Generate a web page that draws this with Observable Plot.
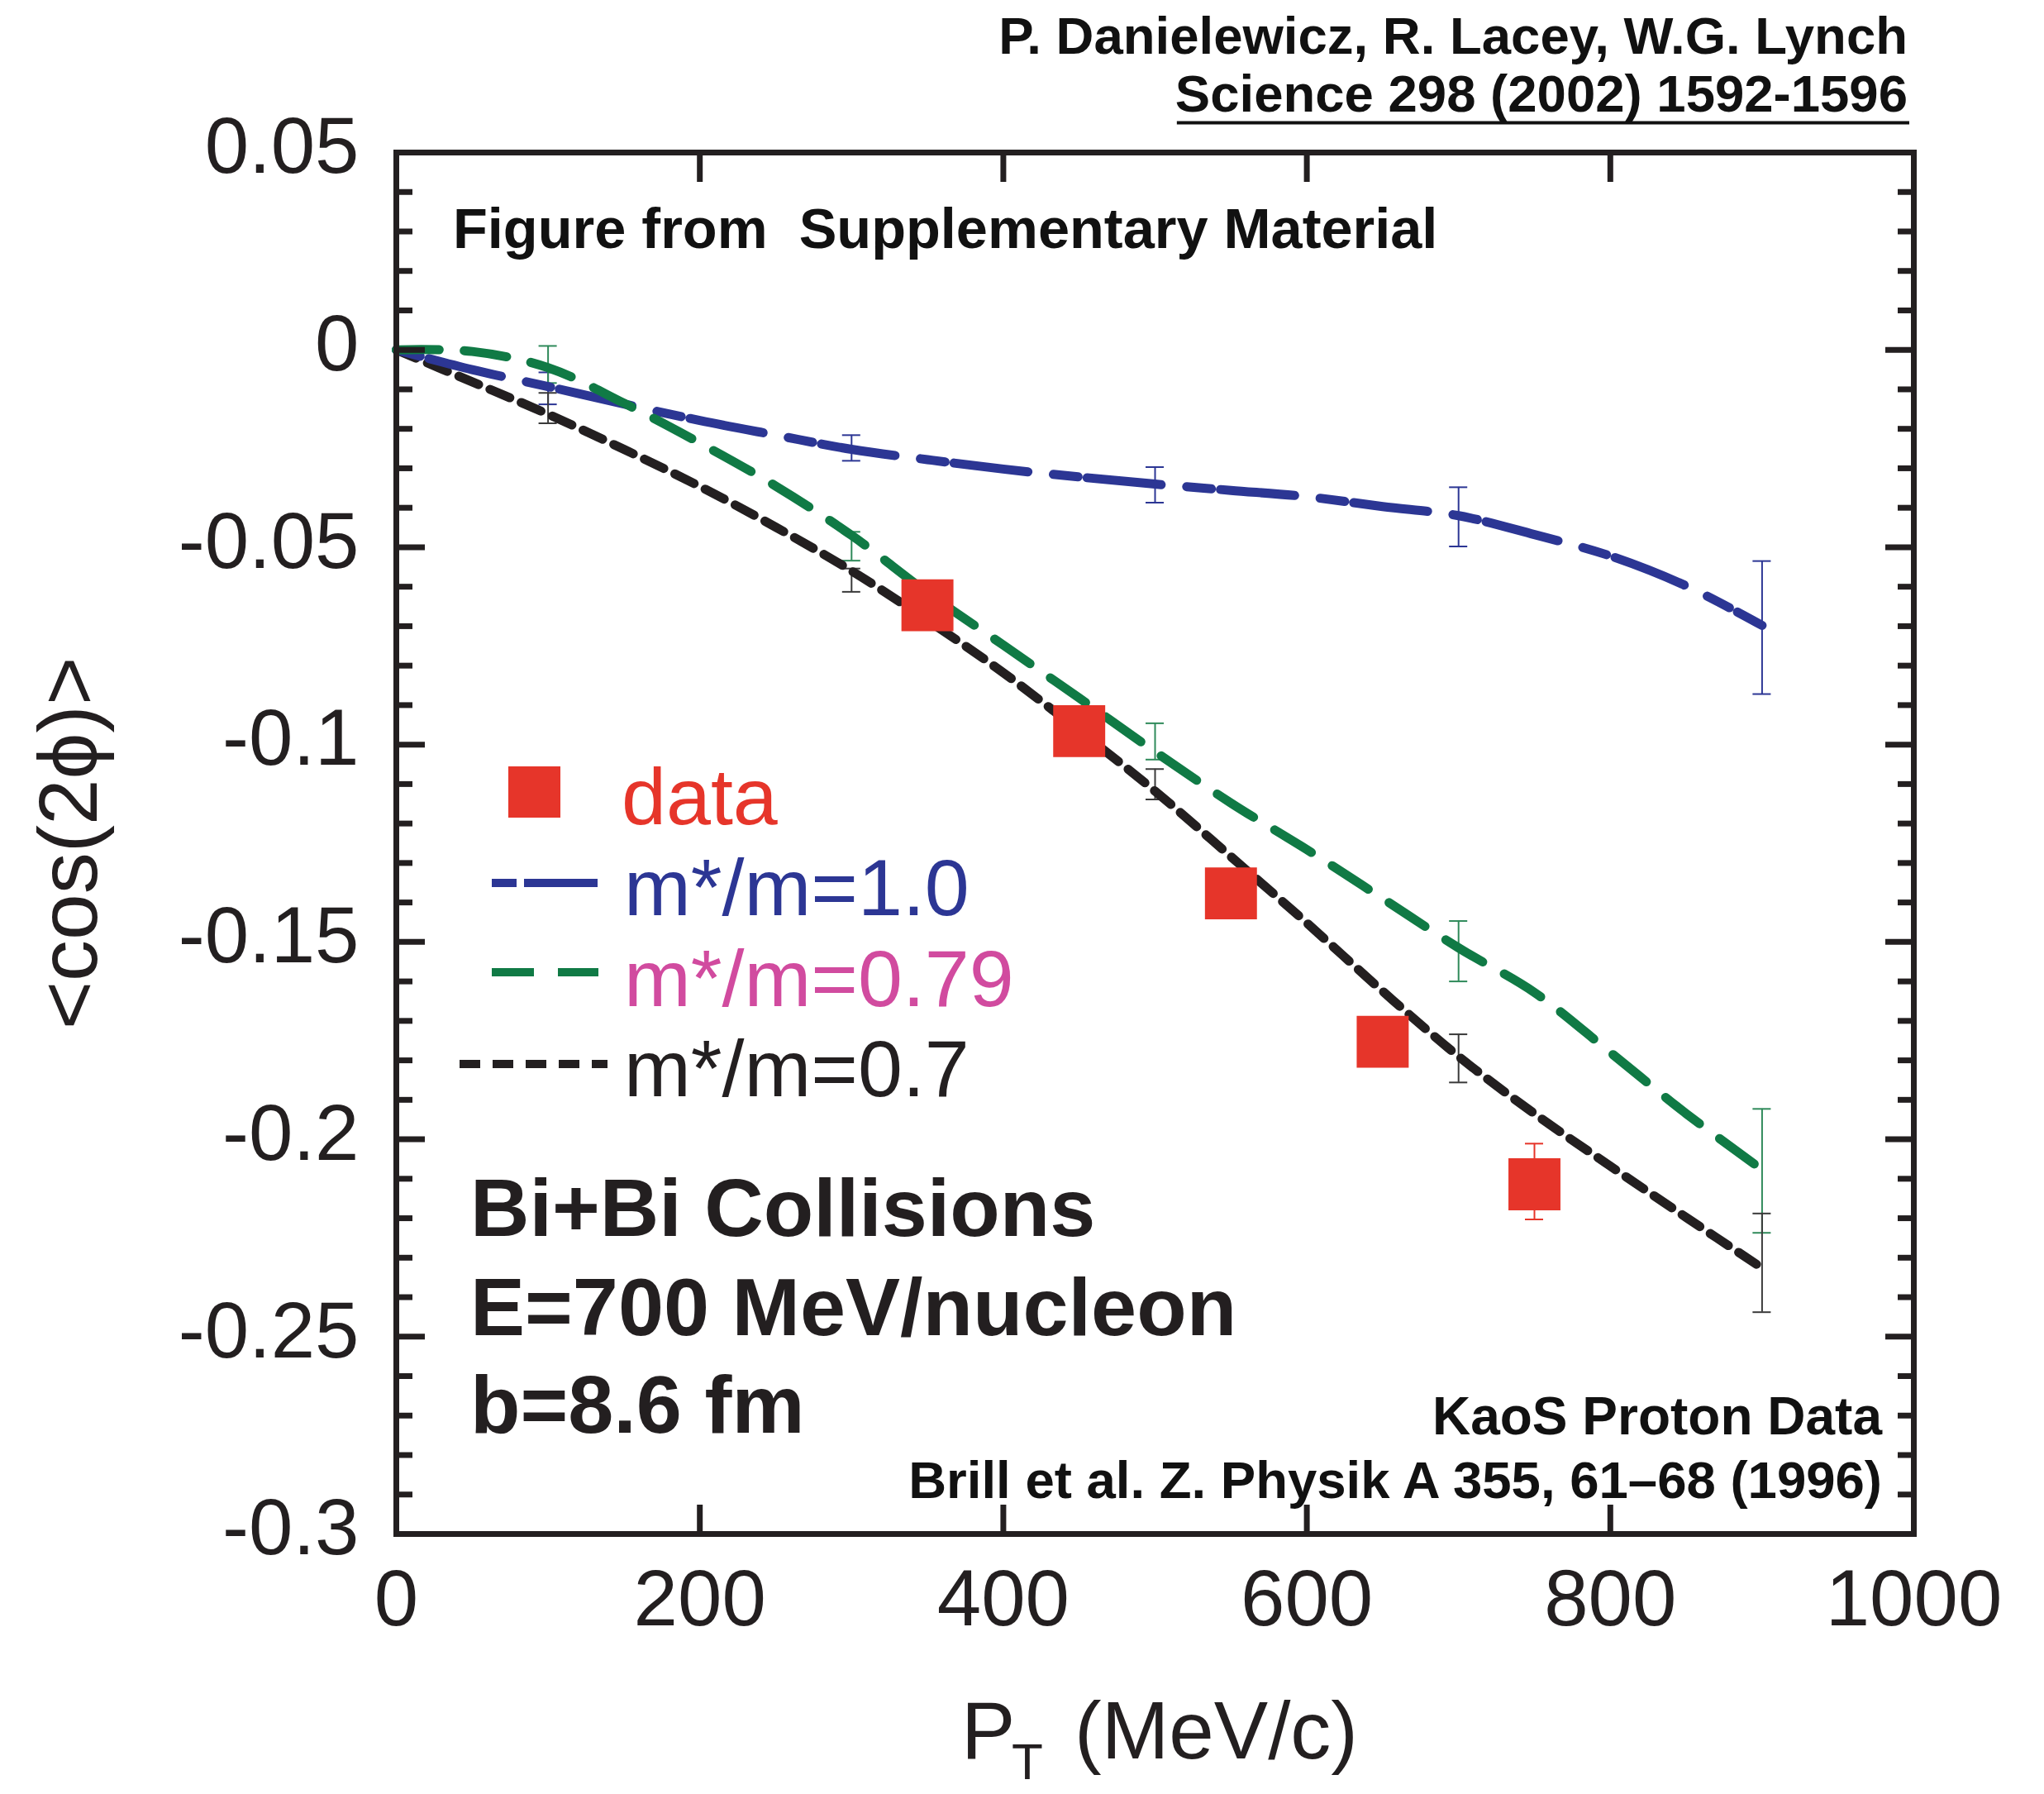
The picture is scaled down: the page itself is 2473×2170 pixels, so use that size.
<!DOCTYPE html>
<html><head><meta charset="utf-8">
<script src="https://cdn.jsdelivr.net/npm/d3@7"></script>
<script src="https://cdn.jsdelivr.net/npm/@observablehq/plot@0.6"></script>
<style>html,body{margin:0;padding:0;background:#fff;} #chart svg{display:block;}</style>
</head><body><div id="chart"></div>
<script>
// ---------- data ----------
const pt = [0, 50, 100, 150, 200, 250, 300, 350, 400, 450, 500, 550, 600, 650, 700, 750, 800, 850, 900];
const mRatio10  = [0, -0.005, -0.0093, -0.0137, -0.0179, -0.0216, -0.0252, -0.0278, -0.0302, -0.0322, -0.034, -0.0356, -0.0372, -0.0397, -0.042, -0.0468, -0.0522, -0.0598, -0.0698];
const mRatio079 = [0, -0.0004, -0.0045, -0.0135, -0.0236, -0.0345, -0.047, -0.0615, -0.0748, -0.0882, -0.1018, -0.1148, -0.1266, -0.139, -0.1515, -0.1628, -0.178, -0.1935, -0.2077];
const mRatio07  = [0, -0.0081, -0.0163, -0.0252, -0.0346, -0.0449, -0.056, -0.0685, -0.0818, -0.0965, -0.1118, -0.1284, -0.1452, -0.1625, -0.179, -0.1935, -0.2068, -0.2198, -0.2326];

const errPt = [100, 300, 500, 700, 900];
const err10Hi  = [-0.0057, -0.0216, -0.0297, -0.0348, -0.0535];
const err10Lo  = [-0.0138, -0.0281, -0.0387, -0.0498, -0.0872];
const err079Hi = [0.001, -0.0461, -0.0946, -0.1447, -0.1923];
const err079Lo = [-0.0084, -0.0534, -0.1038, -0.1600, -0.2237];
const err07Hi  = [-0.0109, -0.0554, -0.1062, -0.1734, -0.2188];
const err07Lo  = [-0.0186, -0.0613, -0.1139, -0.1856, -0.2438];

const dataPt  = [350, 450, 550, 650, 750];
const dataVal = [-0.0647, -0.0966, -0.1377, -0.1753, -0.2114];
const dataHi  = [-0.0597, -0.0916, -0.1327, -0.1703, -0.2011];
const dataLo  = [-0.0697, -0.1016, -0.1427, -0.1803, -0.2203];

const xTicks = [0, 200, 400, 600, 800, 1000];
const yTicks = [0.05, 0, -0.05, -0.1, -0.15, -0.2, -0.25, -0.3];
const yTickLabels = ["0.05", "0", "-0.05", "-0.1", "-0.15", "-0.2", "-0.25", "-0.3"];
const yMinorTicks = d3.range(-30, 6).map(i => i / 100).filter(v => Math.round(v * 100) % 5 !== 0);

const legendLabels = ["data", "m*/m=1.0", "m*/m=0.79", "m*/m=0.7"];

// ---------- styles ----------
const FONT = "'Liberation Sans', Arial, Helvetica, sans-serif";
const INK = "#231f20";
const RED = "#e6352a", BLUE = "#2c3694", GREEN = "#107a45", PINK = "#d14b9f";

const series = [
  {name: legendLabels[1], values: mRatio10,  hi: err10Hi,  lo: err10Lo,  color: BLUE,  err: BLUE,      dash: "30,11,90,31"},
  {name: legendLabels[2], values: mRatio079, hi: err079Hi, lo: err079Lo, color: GREEN, err: "#2f8a5a", dash: "52,30"},
  {name: legendLabels[3], values: mRatio07,  hi: err07Hi,  lo: err07Lo,  color: INK,   err: "#3a3a3a", dash: "26,15"}
];
const curveRows = s => pt.map((x, i) => ({x, y: s.values[i]}));
const errRows = s => errPt.map((x, i) => ({x, hi: s.hi[i], lo: s.lo[i]}));
const dataRows = dataPt.map((x, i) => ({x, y: dataVal[i], hi: dataHi[i], lo: dataLo[i]}));
const CAP = 6; // half-width of error-bar caps, in MeV/c

const marks = [];
for (const s of series) {
  const r = errRows(s);
  marks.push(Plot.ruleX(r, {x: "x", y1: "lo", y2: "hi", stroke: s.err, strokeWidth: 2}));
  marks.push(Plot.ruleY(r, {y: "hi", x1: d => d.x - CAP, x2: d => d.x + CAP, stroke: s.err, strokeWidth: 2}));
  marks.push(Plot.ruleY(r, {y: "lo", x1: d => d.x - CAP, x2: d => d.x + CAP, stroke: s.err, strokeWidth: 2}));
}
for (const s of [series[2], series[0], series[1]]) {
  marks.push(Plot.line(curveRows(s), {x: "x", y: "y", stroke: s.color, strokeWidth: 11, strokeDasharray: s.dash, curve: "catmull-rom"}));
}
marks.push(Plot.ruleX(dataRows, {x: "x", y1: "lo", y2: "hi", stroke: RED, strokeWidth: 2}));
marks.push(Plot.ruleY(dataRows, {y: "hi", x1: d => d.x - CAP, x2: d => d.x + CAP, stroke: RED, strokeWidth: 2}));
marks.push(Plot.ruleY(dataRows, {y: "lo", x1: d => d.x - CAP, x2: d => d.x + CAP, stroke: RED, strokeWidth: 2}));
marks.push(Plot.dot(dataRows, {x: "x", y: "y", symbol: "square", r: 35.5, fill: RED, stroke: "none"}));

// axes: inward ticks on all four sides
const tickBase = {stroke: INK, strokeWidth: 7, fill: "none", label: null};
marks.push(
  Plot.axisX({...tickBase, anchor: "bottom", ticks: xTicks, tickSize: 35, dy: -35}),
  Plot.axisX({...tickBase, anchor: "top", ticks: xTicks, tickSize: 35, dy: 35}),
  Plot.axisY({...tickBase, anchor: "left", ticks: yTicks, tickSize: 35, dx: 35}),
  Plot.axisY({...tickBase, anchor: "right", ticks: yTicks, tickSize: 35, dx: -35}),
  Plot.axisY({...tickBase, anchor: "left", ticks: yMinorTicks, tickSize: 20, dx: 20}),
  Plot.axisY({...tickBase, anchor: "right", ticks: yMinorTicks, tickSize: 20, dx: -20}),
  Plot.axisX({anchor: "bottom", ticks: xTicks, tickSize: 0, tickPadding: 42, stroke: "none", fill: INK, fontSize: 96, label: null, tickFormat: d => String(d)}),
  Plot.axisY({anchor: "left", ticks: yTicks, tickSize: 0, tickPadding: 45, stroke: "none", fill: INK, fontSize: 96, label: null, dy: -6,
    tickFormat: d => yTickLabels[yTicks.findIndex(t => Math.abs(t - d) < 1e-9)]}),
  Plot.frame({stroke: INK, strokeWidth: 7})
);

const plot = Plot.plot({
  width: 2473, height: 2170,
  marginLeft: 479, marginRight: 158, marginTop: 184, marginBottom: 315,
  x: {domain: [0, 1000], label: null},
  y: {domain: [-0.3, 0.05], label: null},
  style: {fontFamily: FONT, color: INK, background: "#fff", overflow: "visible"},
  marks
});
document.getElementById("chart").appendChild(plot);

// ---------- annotations, axis titles, legend ----------
const g = d3.select(plot).append("g").attr("font-family", FONT);
function addText(str, x, y, {size, weight = "normal", anchor = "start", fill = INK, transform} = {}) {
  const t = g.append("text").attr("x", x).attr("y", y).attr("font-size", size)
    .attr("font-weight", weight).attr("text-anchor", anchor).attr("fill", fill).text(str);
  if (transform) t.attr("transform", transform);
  return t;
}
// header
addText("P. Danielewicz, R. Lacey, W.G. Lynch", 2308, 65, {size: 63.5, weight: "bold", anchor: "end", fill: "#111"});
const ref = addText("Science 298 (2002) 1592-1596", 2308, 135, {size: 63.5, weight: "bold", anchor: "end", fill: "#111"});
const refLen = ref.node().getComputedTextLength();
g.append("line").attr("x1", 2310 - refLen).attr("x2", 2310).attr("y1", 148.5).attr("y2", 148.5)
  .attr("stroke", "#111").attr("stroke-width", 4);

addText("Figure from\u00A0 Supplementary Material", 548, 300, {size: 68.5, weight: "bold", fill: "#111"});
addText("Bi+Bi Collisions", 569, 1495, {size: 99, weight: "bold"});
addText("E=700 MeV/nucleon", 569, 1615, {size: 99, weight: "bold"});
addText("b=8.6 fm", 569, 1733, {size: 99, weight: "bold"});
addText("KaoS Proton Data", 2277, 1735, {size: 64, weight: "bold", anchor: "end", fill: "#111"});
addText("Brill et al. Z. Physik A 355, 61\u201368 (1996)", 2277, 1812, {size: 63.5, weight: "bold", anchor: "end", fill: "#111"});

// axis titles
addText("<cos(2\u03D5)>", 0, 0, {size: 100, anchor: "middle", transform: "translate(117,1020) rotate(-90)"});
addText("P", 1163, 2127, {size: 98});
addText("T", 1224, 2152, {size: 62});
addText("(MeV/c)", 1300, 2127, {size: 98});

// legend
g.append("rect").attr("x", 615).attr("y", 927).attr("width", 63).attr("height", 62).attr("fill", RED);
addText(legendLabels[0], 752, 997, {size: 97, fill: RED});
const legLines = [
  {x1: 595, x2: 723, y: 1068, color: BLUE, dash: "30,9,89", text: legendLabels[1], tcol: BLUE, ty: 1107},
  {x1: 595, x2: 724, y: 1176, color: GREEN, dash: "51,29", text: legendLabels[2], tcol: PINK, ty: 1217},
  {x1: 556, x2: 735, y: 1287, color: INK, dash: "25,15", text: legendLabels[3], tcol: INK, ty: 1326}
];
for (const L of legLines) {
  g.append("line").attr("x1", L.x1).attr("x2", L.x2).attr("y1", L.y).attr("y2", L.y)
    .attr("stroke", L.color).attr("stroke-width", 10).attr("stroke-dasharray", L.dash);
  addText(L.text, 755, L.ty, {size: 97, fill: L.tcol});
}
</script>
</body></html>
